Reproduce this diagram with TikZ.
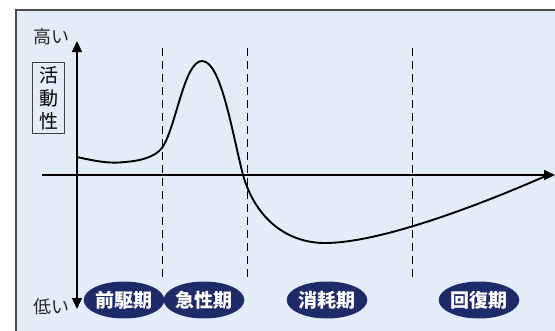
\documentclass[tikz,border=0pt]{standalone}
\usepackage{fontspec}
\setmainfont{Noto Sans CJK JP}
\usetikzlibrary{arrows.meta,shapes.geometric}
\definecolor{bgblue}{HTML}{E4EDF7}
\definecolor{navy}{HTML}{1E2B68}
\tikzset{
  axisline/.style={line width=1.4pt, -{Triangle[length=11pt,width=10pt]}},
  phase/.style={ellipse, fill=navy, text=white, inner sep=0pt, minimum width=73pt, minimum height=37pt, font=\fontsize{19pt}{19pt}\selectfont\bfseries},
  divider/.style={dash pattern=on 8pt off 5pt, line width=0.9pt},
  level/.style={font=\fontsize{18pt}{18pt}\selectfont, text=black!85, inner sep=0pt},
  curve/.style={line width=1.9pt}
}
\begin{document}
\begin{tikzpicture}[x=1pt,y=-1pt]
\useasboundingbox (0,0) rectangle (555,330);
\fill[white] (0,0) rectangle (555,330);
\fill[bgblue] (16,10) rectangle (560,335);
\draw[black!70, line width=1.2pt] (16,335) -- (16,10) -- (560,10);
% dividers
\foreach \xx/\nm in {162/d1,247/d2,412/d3}{
  \coordinate (\nm t) at (\xx,48);
  \coordinate (\nm b) at (\xx,278);
  \draw[divider] (\nm t) -- (\nm b);
}
% axes
\coordinate (origin) at (77,175);
\coordinate (ytop) at (77,41);
\coordinate (ybot) at (77,309);
\coordinate (xleft) at (42,175);
\coordinate (xright) at (555,175);
\draw[axisline] (origin) -- (ytop);
\draw[axisline] (origin) -- (ybot);
\draw[axisline] (xleft) -- (xright);
% labels
\node[level] (high) at (51,37) {高い};
\node[level] (low) at (52,307) {低い};
\node[draw=black!75, line width=0.9pt, inner xsep=6.5pt, inner ysep=4pt, align=center, font=\fontsize{19pt}{23pt}\selectfont] (act) at (48.5,98) {活\\動\\性};
% curve
\draw[curve] (77,157) .. controls (95,161) and (110,164) .. (125,162)
  .. controls (140,161) and (155,157) .. (162,148)
  .. controls (176,128) and (184,61) .. (202,61)
  .. controls (221,61) and (232,132) .. (243,175)
  .. controls (256,220) and (288,243) .. (325,243)
  .. controls (380,243) and (480,205) .. (548,175);
% phases
\node[phase] (p1) at (124,300) {前駆期};
\node[phase] (p2) at (204,300) {急性期};
\node[phase] (p3) at (327,300) {消耗期};
\node[phase] (p4) at (479,300) {回復期};
\end{tikzpicture}
\end{document}
